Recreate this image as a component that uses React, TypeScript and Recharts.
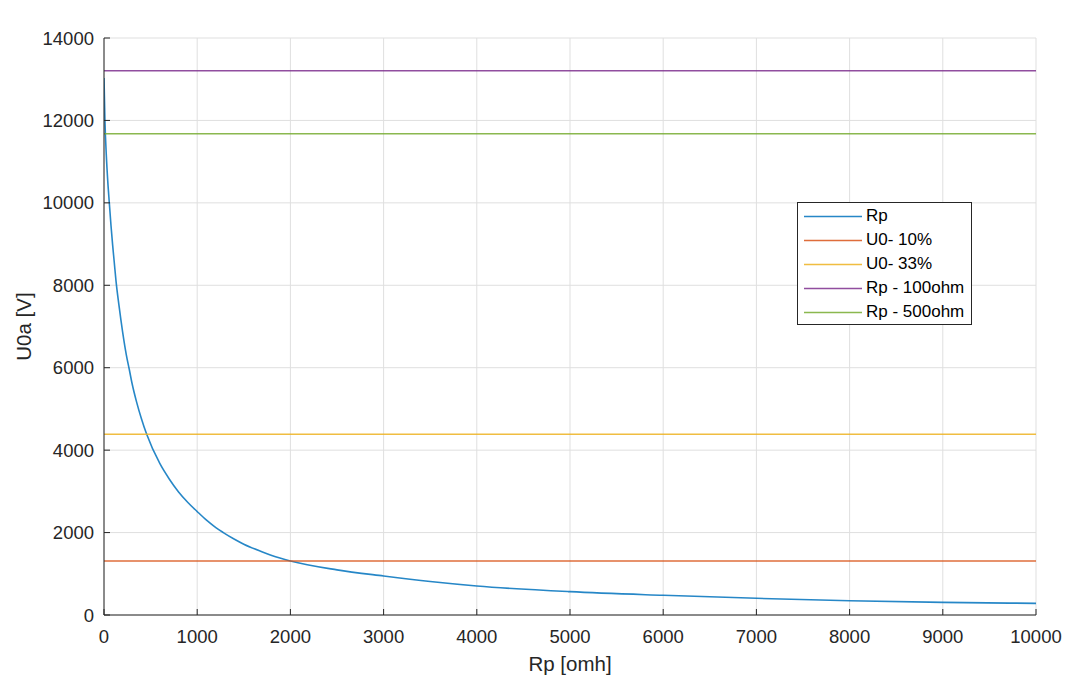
import React from 'react';
import { LineChart, Line, XAxis, YAxis, CartesianGrid } from 'recharts';

// Rp [ohm] sample positions of the blue curve
const rpValues = [0, 10, 25, 40, 57, 75, 93, 110, 129, 160, 200, 240, 272, 300, 350, 400, 458, 600, 700, 800, 900, 1000, 1100, 1200, 1280, 1400, 1500, 1700, 1800, 2000, 2500, 3000, 3500, 4000, 5000, 6000, 7000, 8000, 9000, 10000];
// U0a [V]
const u0aValues = [13030, 12000, 11150, 10540, 10000, 9450, 8968, 8560, 8100, 7524, 6864, 6306, 5950, 5629, 5165, 4774, 4384, 3670, 3300, 2985, 2730, 2510, 2300, 2120, 2000, 1838, 1718, 1530, 1445, 1310, 1095, 946, 812, 704, 566, 478, 405, 347, 307, 283];

// constant reference levels
const u0Pct10 = 1310;
const u0Pct33 = 4384;
const rp100ohm = 13206;
const rp500ohm = 11678;

const xTicks = [0, 1000, 2000, 3000, 4000, 5000, 6000, 7000, 8000, 9000, 10000];
const yTicks = [0, 2000, 4000, 6000, 8000, 10000, 12000, 14000];

const seriesKeys = ['rp', 'u10', 'u33', 'r100', 'r500'];
const seriesNames = ['Rp', 'U0- 10%', 'U0- 33%', 'Rp - 100ohm', 'Rp - 500ohm'];
const seriesColors = ['#0072BD', '#D95319', '#EDB120', '#7E2F8E', '#77AC30'];

const data = rpValues.map((x, i) => ({
  x,
  rp: u0aValues[i],
  u10: u0Pct10,
  u33: u0Pct33,
  r100: rp100ohm,
  r500: rp500ohm,
}));

const FONT = '"Liberation Sans", Arial, Helvetica, sans-serif';
const AXIS = '#262626';
const TICK_FONT = 18.5;
const LABEL_FONT = 20.5;

const renderTitle = (props: any) => {
  const vb = props.viewBox || {};
  const cx = (vb.x || 0) + (vb.width || 0) / 2;
  return (
    <text x={cx} y={(vb.y || 0) - 19} textAnchor="middle" dominantBaseline="central"
      fontFamily={FONT} fontSize={LABEL_FONT} fontWeight="bold" fill="#000">
      Závislost velikosti U0a na velikosti odporu Rp
    </text>
  );
};

const renderXLabel = (props: any) => {
  const vb = props.viewBox || {};
  const cx = (vb.x || 0) + (vb.width || 0) / 2;
  return (
    <text x={cx} y={(vb.y || 0) + 48} textAnchor="middle" dominantBaseline="central"
      fontFamily={FONT} fontSize={LABEL_FONT} fill={AXIS}>
      Rp [omh]
    </text>
  );
};

const renderYLabel = (props: any) => {
  const vb = props.viewBox || {};
  const x = (vb.x || 0) + 23;
  const y = (vb.y || 0) + (vb.height || 0) / 2;
  return (
    <text x={x} y={y} textAnchor="middle" dominantBaseline="central"
      transform={`rotate(-90, ${x}, ${y})`}
      fontFamily={FONT} fontSize={LABEL_FONT} fill={AXIS}>
      U0a [V]
    </text>
  );
};

export default function App() {
  return (
    <div style={{ position: 'absolute', left: 0, top: 0, width: 1067, height: 679, background: '#fff' }}>
      <LineChart width={1067} height={679} data={data}
        margin={{ top: 38, right: 31, bottom: 0, left: 0 }}>
        <CartesianGrid stroke="#dfdfdf" strokeWidth={1} xAxisId="bottom" yAxisId="left" />
        <XAxis xAxisId="bottom" dataKey="x" type="number" domain={[0, 10000]} ticks={xTicks}
          allowDataOverflow height={64} tickSize={-6} tickMargin={21}
          stroke={AXIS} axisLine={{ stroke: AXIS, strokeWidth: 1 }} tickLine={{ stroke: AXIS }}
          tick={{ fill: AXIS, fontSize: TICK_FONT, fontFamily: FONT }}
          interval={0} label={renderXLabel} />
        <XAxis xAxisId="top" orientation="top" dataKey="x" type="number" domain={[0, 10000]} ticks={xTicks}
          allowDataOverflow height={0} tickSize={-6} tick={false}
          axisLine={{ stroke: AXIS, strokeWidth: 1 }} tickLine={{ stroke: AXIS }}
          interval={0} label={renderTitle} />
        <YAxis yAxisId="left" type="number" domain={[0, 14000]} ticks={yTicks}
          allowDataOverflow width={104} tickSize={-6} tickMargin={16}
          axisLine={{ stroke: AXIS, strokeWidth: 1 }} tickLine={{ stroke: AXIS }}
          tick={{ fill: AXIS, fontSize: TICK_FONT, fontFamily: FONT }}
          interval={0} label={renderYLabel} />
        <YAxis yAxisId="right" orientation="right" type="number" domain={[0, 14000]} ticks={yTicks}
          allowDataOverflow width={0} tickSize={-6} tick={false}
          axisLine={{ stroke: AXIS, strokeWidth: 1 }} tickLine={{ stroke: AXIS }}
          interval={0} />
        {seriesKeys.map((k, i) => (
          <Line key={k} xAxisId="bottom" yAxisId="left" dataKey={k} name={seriesNames[i]}
            type={k === 'rp' ? 'monotone' : 'linear'} stroke={seriesColors[i]} strokeWidth={1.6}
            strokeOpacity={0.85} dot={false} activeDot={false} isAnimationActive={false} />
        ))}
      </LineChart>
      <div style={{
        position: 'absolute', left: 797, top: 202, width: 175, height: 123, boxSizing: 'border-box',
        border: `1px solid ${AXIS}`, background: '#fff', fontFamily: FONT, fontSize: 17, color: '#000',
      }}>
        {seriesKeys.map((k, i) => (
          <div key={k} style={{ position: 'absolute', left: 0, top: 1 + i * 24, height: 24, display: 'flex', alignItems: 'center', whiteSpace: 'nowrap' }}>
            <svg width={68} height={24} style={{ display: 'block' }}>
              <line x1={6} x2={64} y1={12.5} y2={12.5} stroke={seriesColors[i]} strokeWidth={1.6} strokeOpacity={0.85} />
            </svg>
            <span>{seriesNames[i]}</span>
          </div>
        ))}
      </div>
    </div>
  );
}
